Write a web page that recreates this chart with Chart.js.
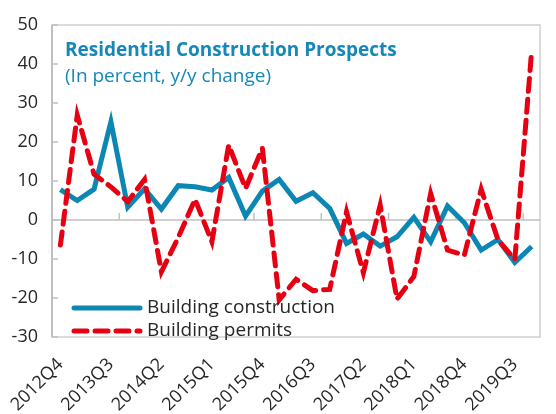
<!DOCTYPE html>
<html>
<head>
<meta charset="utf-8">
<script src="https://cdn.jsdelivr.net/npm/chart.js@4.4.1/dist/chart.umd.min.js"></script>
<style>
  body { margin: 0; background: #fff; }
  #wrap { width: 556px; height: 414px; }
</style>
</head>
<body>
<div id="wrap"><canvas id="residentialChart" width="556" height="414"></canvas></div>
<script>
const quarters = [
  '2012Q4',
  '2013Q1', '2013Q2', '2013Q3', '2013Q4',
  '2014Q1', '2014Q2', '2014Q3', '2014Q4',
  '2015Q1', '2015Q2', '2015Q3', '2015Q4',
  '2016Q1', '2016Q2', '2016Q3', '2016Q4',
  '2017Q1', '2017Q2', '2017Q3', '2017Q4',
  '2018Q1', '2018Q2', '2018Q3', '2018Q4',
  '2019Q1', '2019Q2', '2019Q3', '2019Q4'
];
const buildingConstruction = [
  7.8, 5.0, 7.9, 25.2, 3.3, 8.0, 2.8, 8.8, 8.5, 7.7,
  10.9, 1.0, 7.4, 10.4, 4.8, 7.0, 3.0, -6.0, -3.6, -6.7,
  -4.3, 0.7, -5.6, 3.6, -0.7, -7.7, -5.0, -10.9, -6.8
];
const buildingPermits = [
  -6.4, 26.9, 11.7, 8.5, 4.7, 10.4, -13.3, -4.5, 5.3, -5.6,
  19.2, 8.1, 18.4, -20.5, -15.2, -18.1, -17.8, 2.1, -13.5, 3.8,
  -20.3, -14.5, 6.8, -7.7, -9.0, 7.9, -5.1, -10.1, 43.4
];
const seriesNames = ['Building construction', 'Building permits'];
const chartTitle = 'Residential Construction Prospects';
const chartSubtitle = '(In percent, y/y change)';

const fontFamily = "'Open Sans', 'Noto Sans', sans-serif";
const blue = '#0c87b4';
const red = '#e60012';
const axisGray = '#bfbfbf';

// rahmen, nulllinie und tick-striche
const frame = {
  id: 'frame',
  beforeDatasetsDraw(chart) {
    const { ctx, chartArea: a, scales } = chart;
    const y0 = scales.y.getPixelForValue(0);
    ctx.save();
    ctx.strokeStyle = '#d0d0d0';
    ctx.lineWidth = 1.5;
    ctx.strokeRect(a.left, a.top, a.width, a.height);

    ctx.strokeStyle = axisGray;
    ctx.lineWidth = 2;
    ctx.beginPath();
    ctx.moveTo(a.left, a.top);
    ctx.lineTo(a.left, a.bottom);
    ctx.stroke();

    ctx.lineWidth = 1.5;
    ctx.beginPath();
    ctx.moveTo(a.left, y0);
    ctx.lineTo(a.right, y0);
    ctx.stroke();

    scales.y.ticks.forEach(t => {
      const y = scales.y.getPixelForValue(t.value);
      ctx.beginPath();
      ctx.moveTo(a.left, y);
      ctx.lineTo(a.left + 6, y);
      ctx.stroke();
    });

    for (let i = 4; i < quarters.length; i += 4) {
      const x = (scales.x.getPixelForValue(i - 1) + scales.x.getPixelForValue(i)) / 2;
      ctx.beginPath();
      ctx.moveTo(x, y0);
      ctx.lineTo(x, y0 - 7);
      ctx.stroke();
    }
    ctx.restore();
  },
  afterDraw(chart) {
    const { ctx, chartArea: a } = chart;
    ctx.save();
    ctx.textAlign = 'left';
    ctx.textBaseline = 'alphabetic';
    ctx.fillStyle = '#1587b8';
    ctx.font = 'bold 19px ' + fontFamily;
    ctx.fillText(chartTitle, a.left + 13, a.top + 31);
    ctx.font = '19px ' + fontFamily;
    ctx.fillText(chartSubtitle, a.left + 13, a.top + 57);

    // legende unten links im plot
    const rows = [
      { name: seriesNames[0], color: blue, dash: [] },
      { name: seriesNames[1], color: red, dash: [13, 8] }
    ];
    rows.forEach((r, k) => {
      const y = a.bottom - 29 + k * 23;
      ctx.strokeStyle = r.color;
      ctx.lineWidth = 5;
      ctx.lineCap = 'round';
      ctx.setLineDash(r.dash);
      ctx.beginPath();
      ctx.moveTo(a.left + 22, y);
      ctx.lineTo(a.left + 88, y);
      ctx.stroke();
      ctx.setLineDash([]);
      ctx.fillStyle = '#262626';
      ctx.textBaseline = 'middle';
      ctx.fillText(r.name, a.left + 95, y);
    });
    ctx.restore();
  }
};

const ctx = document.getElementById('residentialChart').getContext('2d');
const residentialChart = new Chart(ctx, {
  type: 'line',
  data: {
    labels: quarters,
    datasets: [
      {
        label: seriesNames[0],
        data: buildingConstruction,
        borderColor: blue,
        borderWidth: 5,
        pointRadius: 0,
        tension: 0,
        order: 1
      },
      {
        label: seriesNames[1],
        data: buildingPermits,
        borderColor: red,
        borderWidth: 5,
        borderDash: [13, 8],
        borderCapStyle: 'round',
        pointRadius: 0,
        tension: 0,
        order: 0
      }
    ]
  },
  options: {
    responsive: false,
    animation: false,
    layout: { padding: { top: 25, right: 4, left: 0, bottom: 0 } },
    plugins: {
      legend: { display: false },
      title: { display: false },
      tooltip: { enabled: false }
    },
    scales: {
      x: {
        offset: true,
        grid: { display: false },
        border: { display: false },
        ticks: {
          autoSkip: false,
          minRotation: 45,
          maxRotation: 45,
          padding: 9,
          color: '#262626',
          font: { family: fontFamily, size: 18 },
          callback: function (value, index) {
            return index % 3 === 0 ? this.getLabelForValue(value) : '';
          }
        },
        afterFit: s => { s.height = 77; }
      },
      y: {
        min: -30,
        max: 50,
        grid: { display: false },
        border: { display: false },
        ticks: {
          stepSize: 10,
          padding: 6,
          color: '#262626',
          font: { family: fontFamily, size: 18 }
        },
        afterFit: s => { s.width = 52; }
      }
    }
  },
  plugins: [frame]
});
</script>
</body>
</html>
